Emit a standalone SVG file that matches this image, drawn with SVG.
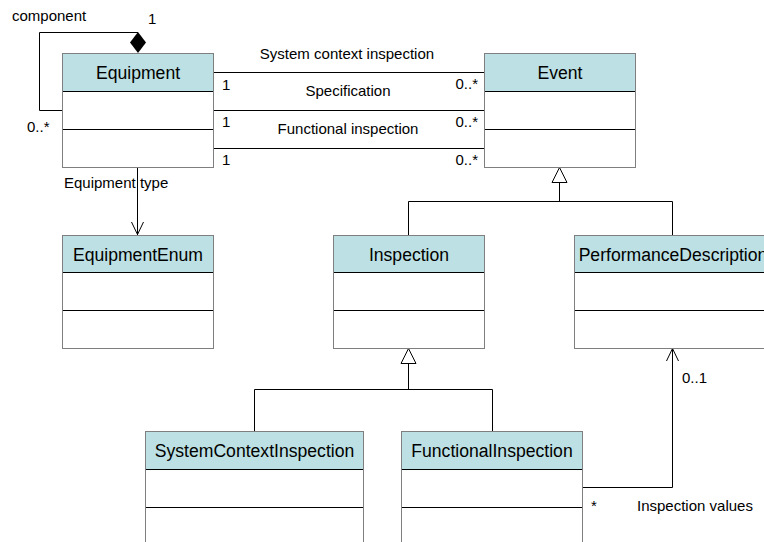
<svg xmlns="http://www.w3.org/2000/svg" width="764" height="542" viewBox="0 0 764 542">
<style>
.hdr{fill:#BCE0E3;stroke:none}
.body{fill:#ffffff;stroke:none}
.frame{fill:none;stroke:#7f7f7f;stroke-width:1}
.sep{stroke:#000;stroke-width:1}
.name{font-family:"Liberation Sans",Arial,sans-serif;font-size:17.6px;fill:#000;text-anchor:middle}
.lbl{font-family:"Liberation Sans",Arial,sans-serif;font-size:15px;fill:#000}
.c{fill:none;stroke:#000;stroke-width:1}
</style>
<defs>
<marker id="gen" markerUnits="userSpaceOnUse" viewBox="0 0 16 16" refX="8" refY="0" markerWidth="16" markerHeight="16" orient="auto-start-reverse"><path d="M8,0 L15.5,15 L0.5,15 Z" fill="#fff" stroke="#000"/></marker>
</defs>
<rect width="764" height="542" fill="#fff"/>

<g id="connectors">
  <!-- self association -->
  <polyline class="c" points="62,110.5 39.5,110.5 39.5,32.5 138,32.5"/>
  <polygon points="138,32 146,42.5 138,53 130,42.5" fill="#000"/>
  <!-- equipment-event associations -->
  <line class="c" x1="213" y1="72.5" x2="484" y2="72.5"/>
  <line class="c" x1="213" y1="110.5" x2="484" y2="110.5"/>
  <line class="c" x1="213" y1="148.5" x2="484" y2="148.5"/>
  <!-- equipment type -->
  <line class="c" x1="137.5" y1="167" x2="137.5" y2="235"/>
  <polyline class="c" points="131.5,222 137.5,234.5 143.5,222"/>
  <!-- generalization Event -->
  <polygon points="559.5,167.5 567,182.5 552,182.5" fill="#fff" stroke="#000"/>
  <line class="c" x1="559.5" y1="182.5" x2="559.5" y2="201.5"/>
  <polyline class="c" points="408.5,235 408.5,201.5 672.5,201.5 672.5,235"/>
  <!-- generalization Inspection -->
  <polygon points="408.5,348.5 416,363.5 401,363.5" fill="#fff" stroke="#000"/>
  <line class="c" x1="408.5" y1="363.5" x2="408.5" y2="389.5"/>
  <polyline class="c" points="254.5,431 254.5,389.5 492.5,389.5 492.5,431"/>
  <!-- inspection values -->
  <polyline class="c" points="582,487.5 672.5,487.5 672.5,349"/>
  <polyline class="c" points="666.5,361 672.5,348.5 678.5,361"/>
  <!-- labels -->
  <text class="lbl" x="12" y="21">component</text>
  <text class="lbl" x="148" y="24">1</text>
  <text class="lbl" x="27" y="132">0..*</text>
  <text class="lbl" x="347" y="59" text-anchor="middle">System context inspection</text>
  <text class="lbl" x="348" y="96" text-anchor="middle">Specification</text>
  <text class="lbl" x="348" y="134" text-anchor="middle">Functional inspection</text>
  <text class="lbl" x="222" y="90">1</text>
  <text class="lbl" x="222" y="127">1</text>
  <text class="lbl" x="222" y="165">1</text>
  <text class="lbl" x="478" y="89" text-anchor="end">0..*</text>
  <text class="lbl" x="478" y="127" text-anchor="end">0..*</text>
  <text class="lbl" x="478" y="165" text-anchor="end">0..*</text>
  <text class="lbl" x="64" y="188">Equipment type</text>
  <text class="lbl" x="682" y="383">0..1</text>
  <text class="lbl" x="591" y="511">*</text>
  <text class="lbl" x="637" y="511">Inspection values</text>
</g>

<g id="Equipment">
  <rect class="body" x="62.5" y="53.5" width="151" height="114"/>
  <rect class="hdr" x="62.5" y="53.5" width="151" height="38"/>
  <line class="sep" x1="62.5" y1="91.5" x2="213.5" y2="91.5"/>
  <line class="sep" x1="62.5" y1="129.5" x2="213.5" y2="129.5"/>
  <rect class="frame" x="62.5" y="53.5" width="151" height="114"/>
  <text class="name" x="138" y="79">Equipment</text>
</g>

<g id="Event">
  <rect class="body" x="484.5" y="53.5" width="151" height="114"/>
  <rect class="hdr" x="484.5" y="53.5" width="151" height="38"/>
  <line class="sep" x1="484.5" y1="91.5" x2="635.5" y2="91.5"/>
  <line class="sep" x1="484.5" y1="129.5" x2="635.5" y2="129.5"/>
  <rect class="frame" x="484.5" y="53.5" width="151" height="114"/>
  <text class="name" x="560" y="79">Event</text>
</g>

<g id="EquipmentEnum">
  <rect class="body" x="62.5" y="235.5" width="151" height="113"/>
  <rect class="hdr" x="62.5" y="235.5" width="151" height="37"/>
  <line class="sep" x1="62.5" y1="272.5" x2="213.5" y2="272.5"/>
  <line class="sep" x1="62.5" y1="310.5" x2="213.5" y2="310.5"/>
  <rect class="frame" x="62.5" y="235.5" width="151" height="113"/>
  <text class="name" x="138" y="261">EquipmentEnum</text>
</g>

<g id="Inspection">
  <rect class="body" x="333.5" y="235.5" width="151" height="113"/>
  <rect class="hdr" x="333.5" y="235.5" width="151" height="37"/>
  <line class="sep" x1="333.5" y1="272.5" x2="484.5" y2="272.5"/>
  <line class="sep" x1="333.5" y1="310.5" x2="484.5" y2="310.5"/>
  <rect class="frame" x="333.5" y="235.5" width="151" height="113"/>
  <text class="name" x="409" y="261">Inspection</text>
</g>

<g id="PerformanceDescription">
  <rect class="body" x="574.5" y="235.5" width="198" height="113"/>
  <rect class="hdr" x="574.5" y="235.5" width="198" height="37"/>
  <line class="sep" x1="574.5" y1="272.5" x2="772.5" y2="272.5"/>
  <line class="sep" x1="574.5" y1="310.5" x2="772.5" y2="310.5"/>
  <rect class="frame" x="574.5" y="235.5" width="198" height="113"/>
  <text class="name" x="673" y="261">PerformanceDescription</text>
</g>

<g id="SystemContextInspection">
  <rect class="body" x="145.5" y="431.5" width="218" height="114"/>
  <rect class="hdr" x="145.5" y="431.5" width="218" height="38"/>
  <line class="sep" x1="145.5" y1="469.5" x2="363.5" y2="469.5"/>
  <line class="sep" x1="145.5" y1="507.5" x2="363.5" y2="507.5"/>
  <rect class="frame" x="145.5" y="431.5" width="218" height="114"/>
  <text class="name" x="254.5" y="457">SystemContextInspection</text>
</g>

<g id="FunctionalInspection">
  <rect class="body" x="401.5" y="431.5" width="181" height="114"/>
  <rect class="hdr" x="401.5" y="431.5" width="181" height="38"/>
  <line class="sep" x1="401.5" y1="469.5" x2="582.5" y2="469.5"/>
  <line class="sep" x1="401.5" y1="507.5" x2="582.5" y2="507.5"/>
  <rect class="frame" x="401.5" y="431.5" width="181" height="114"/>
  <text class="name" x="492" y="457">FunctionalInspection</text>
</g>
</svg>
